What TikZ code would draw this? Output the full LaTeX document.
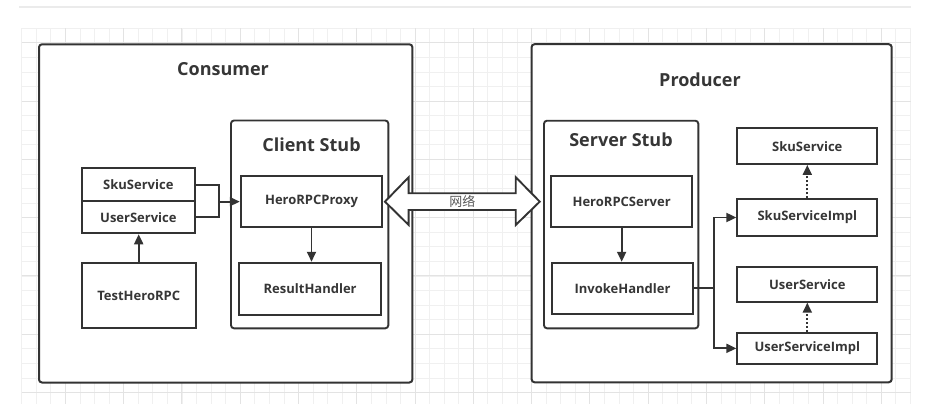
\documentclass[tikz,border=0pt]{standalone}
\usepackage{fontspec}
\setmainfont{Open Sans}
\newfontfamily\cjk{Noto Sans CJK SC}
\usetikzlibrary{arrows.meta,calc}
\definecolor{ink}{HTML}{333333}
\definecolor{txt}{HTML}{363636}
\tikzset{
  gthin/.style={draw=black!6, line width=0.9pt},
  gthick/.style={draw=black!11, line width=1pt},
  frame/.style={draw=ink, line width=2pt, rounded corners=3pt, inner sep=0pt},
  stub/.style={draw=ink, line width=1.9pt, rounded corners=3pt, inner sep=0pt},
  box/.style={draw=ink, line width=1.9pt, inner sep=0pt, text=txt,
    font=\fontsize{13}{15}\selectfont\bfseries},
  ttl/.style={text=txt, font=\fontsize{18}{21}\selectfont\bfseries, inner sep=0pt},
  conn/.style={draw=ink, line width=1.9pt},
  arr/.style={conn, -{Triangle[length=10pt,width=9pt]}},
  dotarr/.style={conn, dash pattern=on 2pt off 2pt, -{Triangle[length=10pt,width=9pt]}},
  netarrow/.style={draw=ink, line width=1.9pt, fill=white, line join=miter},
}
\begin{document}
\begin{tikzpicture}[x=1pt,y=-1pt]
\useasboundingbox (0,0) rectangle (926,412);
\fill[white] (0,0) rectangle (926,412);
% header separator
\draw[draw=black!8, line width=2pt] (19,7.5) -- (911,7.5);
% grid
\foreach \i in {0,...,61} \draw[gthin] ({21.7+14.57*\i},28.3) -- ({21.7+14.57*\i},404);
\foreach \j in {0,...,25} \draw[gthin] (21.7,{28.3+14.57*\j}) -- (910.5,{28.3+14.57*\j});
\foreach \k in {0,...,14} \draw[gthick] ({21.7+14.57*(3+4*\k)},28.3) -- ({21.7+14.57*(3+4*\k)},404);
\foreach \k in {0,...,6} \draw[gthick] (21.7,{28.3+14.57*(1+4*\k)}) -- (910.5,{28.3+14.57*(1+4*\k)});

% outer frames
\node[frame, fill=white, minimum width=373.4pt, minimum height=338.2pt] (consumer) at (225.7,213.4) {};
\node[frame, fill=white, minimum width=360.1pt, minimum height=338.1pt] (producer) at (711.65,213.25) {};
\node[ttl] (consumerT) at (223,69.3) {Consumer};
\node[ttl] (producerT) at (700,79.3) {Producer};

% stubs
\node[stub, minimum width=157.3pt, minimum height=207.8pt] (clientstub) at (309.65,224.4) {};
\node[stub, minimum width=154.3pt, minimum height=207.6pt] (serverstub) at (621.15,224.5) {};
\node[ttl] (clientT) at (311.5,145) {Client Stub};
\node[ttl] (serverT) at (621,140) {Server Stub};

% consumer side
\node[box, minimum width=113.3pt, minimum height=32.7pt] (skuL) at (138.35,184.65) {SkuService};
\node[box, minimum width=113.3pt, minimum height=32.3pt] (userL) at (138.35,217.15) {UserService};
\node[box, minimum width=114pt, minimum height=65pt] (test) at (138.7,295.8) {TestHeroRPC};
\node[box, minimum width=141.6pt, minimum height=51.3pt] (proxy) at (311.5,201.65) {HeroRPCProxy};
\node[box, minimum width=141.7pt, minimum height=52.3pt] (result) at (310.15,288.85) {ResultHandler};

% producer side
\node[box, minimum width=141.3pt, minimum height=51.3pt] (hserver) at (621.65,201.65) {HeroRPCServer};
\node[box, minimum width=141.6pt, minimum height=51.3pt] (invoke) at (622.5,288.35) {InvokeHandler};
\node[box, minimum width=140pt, minimum height=35.7pt] (rsku) at (807.3,146.15) {SkuService};
\node[box, minimum width=140pt, minimum height=36.4pt] (rskuimpl) at (807.3,217.5) {SkuServiceImpl};
\node[box, minimum width=140pt, minimum height=35pt] (ruser) at (807.3,284.2) {UserService};
\node[box, minimum width=140pt, minimum height=31.3pt] (ruserimpl) at (807.3,348.35) {UserServiceImpl};

% consumer connectors
\coordinate (jx) at (219,201.65);
\draw[conn] (skuL.east) -| (jx);
\draw[conn] (userL.east) -| (jx);
\draw[arr] (jx) -- (proxy.west);
\draw[arr] (test.north) -- (test.north |- userL.south);
\draw[arr] (proxy.south) -- (proxy.south |- result.north);

% producer connectors
\draw[arr] (hserver.south) -- (hserver.south |- invoke.north);
\coordinate (jy) at (714.3,288.35);
\draw[conn] (invoke.east) -- (jy);
\draw[arr] (jy) |- (rskuimpl.west);
\draw[arr] (jy) |- (ruserimpl.west);
\draw[dotarr] (rskuimpl.north) -- (rsku.south);
\draw[dotarr] (ruserimpl.north) -- (ruser.south);

% network double arrow
\coordinate (nl) at ($(proxy.east)+(1.7,0)$);
\coordinate (nr) at ($(hserver.west)+(-10.3,0)$);
\draw[netarrow] (nl) -- ++(23.7,-24.4) -- ++(0,16) -- ($(nr)+(-24,-8.4)$) -- ++(0,-16)
  -- (nr) -- ($(nr)+(-24,23.3)$) -- ++(0,-15) -- ($(nl)+(23.7,8.3)$) -- ++(0,15) -- cycle;
\node[text=black!65, font=\cjk\fontsize{13}{15}\selectfont, inner sep=0pt] (netlabel) at ($(nl)!0.5!(nr)$) {网络};
\end{tikzpicture}
\end{document}
